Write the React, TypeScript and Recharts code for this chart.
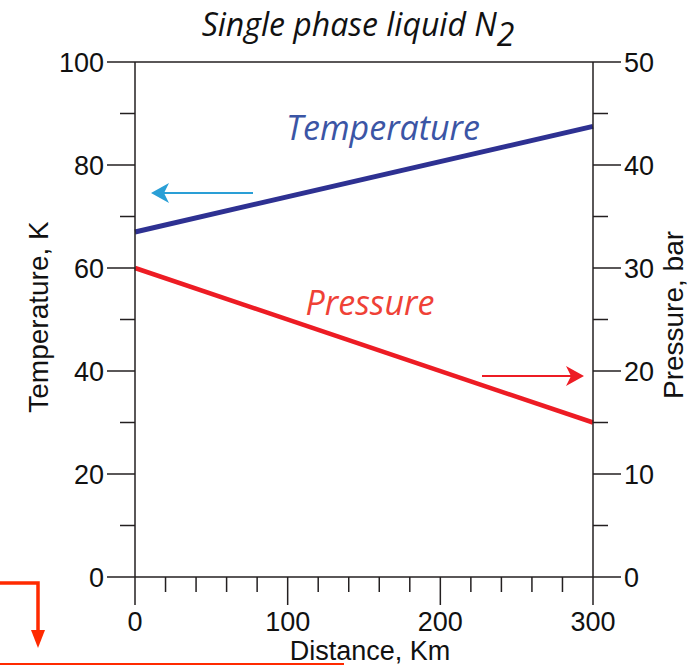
import React from 'react'
import { LineChart, Line, XAxis, YAxis, ReferenceLine } from 'recharts'

// distance along pipe (km) and the two profiles
const distance = [0, 300]
const temperature = [67, 87.5] // K, left axis
const pressure = [30, 15] // bar, right axis

const xTicks = [0, 20, 40, 60, 80, 100, 120, 140, 160, 180, 200, 220, 240, 260, 280, 300]
const xMajor = [0, 100, 200, 300]
const tempTicks = [0, 10, 20, 30, 40, 50, 60, 70, 80, 90, 100]
const tempMajor = [0, 20, 40, 60, 80, 100]
const pressTicks = [0, 5, 10, 15, 20, 25, 30, 35, 40, 45, 50]
const pressMajor = [0, 10, 20, 30, 40, 50]

const data = distance.map((d, i) => ({
  distance: d,
  temperature: temperature[i],
  pressure: pressure[i],
}))

const W = 693
const H = 665
const AXIS = '#231f20'
const SANS = '"Liberation Sans", Arial, Helvetica, sans-serif'
const HUMAN = '"Open Sans", "Noto Sans", sans-serif'

const makeTick = (side: 'left' | 'right' | 'bottom', majors: number[]) => (props: any) => {
  const { x, y, payload } = props
  const major = majors.includes(payload.value)
  const len = major ? 28 : 15
  if (side === 'bottom') {
    return (
      <g>
        <line x1={x} y1={y} x2={x} y2={y + len} stroke={AXIS} strokeWidth={1.5} />
        {major && (
          <text x={x} y={y + 54} textAnchor="middle" fontSize={27} fontFamily={SANS} fill="#111">
            {payload.value}
          </text>
        )}
      </g>
    )
  }
  const dir = side === 'left' ? -1 : 1
  return (
    <g>
      <line x1={x} y1={y} x2={x + dir * len} y2={y} stroke={AXIS} strokeWidth={1.5} />
      {major && (
        <text
          x={x + dir * 31}
          y={y + 10}
          textAnchor={side === 'left' ? 'end' : 'start'}
          fontSize={27}
          fontFamily={SANS}
          fill="#111"
        >
          {payload.value}
        </text>
      )}
    </g>
  )
}

export default function App() {
  return (
    <div style={{ position: 'absolute', left: 0, top: 0, width: W, height: H, background: '#fff' }}>
      <LineChart width={W} height={H} data={data} margin={{ top: 62, right: 0, left: 0, bottom: 0 }}>
        <XAxis
          dataKey="distance"
          type="number"
          domain={[0, 300]}
          ticks={xTicks}
          interval={0}
          height={88}
          tickSize={0}
          tickMargin={0}
          tickLine={false}
          tick={makeTick('bottom', xMajor)}
          axisLine={{ stroke: AXIS, strokeWidth: 1.5 }}
        />
        <YAxis
          yAxisId="left"
          orientation="left"
          domain={[0, 100]}
          ticks={tempTicks}
          interval={0}
          width={135}
          tickSize={0}
          tickMargin={0}
          tickLine={false}
          tick={makeTick('left', tempMajor)}
          axisLine={{ stroke: AXIS, strokeWidth: 1.5 }}
        />
        <YAxis
          yAxisId="right"
          orientation="right"
          domain={[0, 50]}
          ticks={pressTicks}
          interval={0}
          width={100}
          tickSize={0}
          tickMargin={0}
          tickLine={false}
          tick={makeTick('right', pressMajor)}
          axisLine={{ stroke: AXIS, strokeWidth: 1.5 }}
        />
        <ReferenceLine yAxisId="left" y={100} stroke={AXIS} strokeWidth={1.5} />
        <Line
          yAxisId="left"
          dataKey="temperature"
          stroke="#2e3192"
          strokeWidth={5}
          dot={false}
          isAnimationActive={false}
        />
        <Line
          yAxisId="right"
          dataKey="pressure"
          stroke="#ed1c24"
          strokeWidth={4.5}
          dot={false}
          isAnimationActive={false}
        />
      </LineChart>

      <svg
        width={W}
        height={H}
        style={{ position: 'absolute', left: 0, top: 0, pointerEvents: 'none' }}
      >
        {/* title */}
        <text x={358} y={36} textAnchor="middle" fontSize={32} fontStyle="italic" fontFamily={HUMAN} fill="#111">
          Single phase liquid N
          <tspan dy={10}>2</tspan>
        </text>

        {/* axis titles */}
        <text
          transform="translate(48,317) rotate(-90)"
          textAnchor="middle"
          fontSize={28}
          fontFamily={SANS}
          fill="#111"
        >
          Temperature, K
        </text>
        <text
          transform="translate(683,315) rotate(-90)"
          textAnchor="middle"
          fontSize={28}
          fontFamily={SANS}
          fill="#111"
        >
          Pressure, bar
        </text>
        <text x={370} y={660} textAnchor="middle" fontSize={27} fontFamily={SANS} fill="#111">
          Distance, Km
        </text>

        {/* series annotations */}
        <text x={383} y={140} textAnchor="middle" fontSize={34} fontStyle="italic" fontFamily={HUMAN} fill="#3b55a5">
          Temperature
        </text>
        <text x={370} y={315} textAnchor="middle" fontSize={34} fontStyle="italic" fontFamily={HUMAN} fill="#ef4136">
          Pressure
        </text>

        {/* blue arrow pointing to left axis */}
        <line x1={253} y1={193} x2={160} y2={193} stroke="#2a9fd6" strokeWidth={2} />
        <path d="M151,193 L169,183 L164,193 L169,203 Z" fill="#2a9fd6" />

        {/* red arrow pointing to right axis */}
        <line x1={482} y1={376} x2={575} y2={376} stroke="#ed1c24" strokeWidth={2} />
        <path d="M584,376 L566,366 L571,376 L566,386 Z" fill="#ed1c24" />

        {/* stray marks at the bottom left */}
        <polyline points="0,583 38,583 38,632" fill="none" stroke="#ff2a00" strokeWidth={3.5} />
        <path d="M31,630 L45,630 L38,648 Z" fill="#ff2a00" />
        <line x1={0} y1={664} x2={344} y2={664} stroke="#ff2a00" strokeWidth={2} />
      </svg>
    </div>
  )
}
